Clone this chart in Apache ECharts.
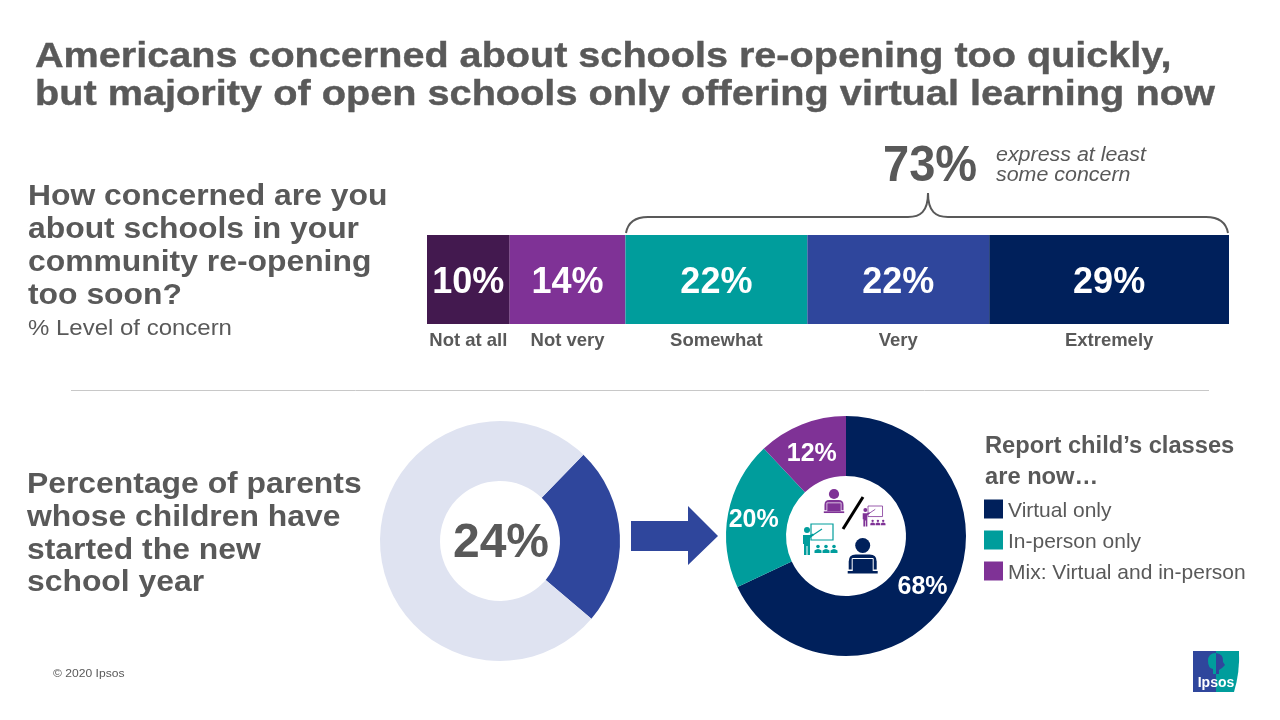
<!DOCTYPE html>
<html>
<head>
<meta charset="utf-8">
<title>Schools re-opening</title>
<script src="https://cdn.jsdelivr.net/npm/echarts@6/dist/echarts.min.js"></script>
<style>
html,body{margin:0;padding:0;background:#fff}
#main{width:1280px;height:720px}
</style>
</head>
<body>
<div id="main"></div>
<script>
var concernLabels = ['Not at all', 'Not very', 'Somewhat', 'Very', 'Extremely'];
var concernValues = [10, 14, 22, 22, 29];
var concernColors = ['#43194f', '#7f3296', '#009d9c', '#2f469c', '#00205b'];
var concernTotal = 73;

var startedNames = ['Started', 'Not started'];
var startedValues = [24, 76];
var startedColors = ['#2f469c', '#dfe3f1'];

var classNames = ['Virtual only', 'In-person only', 'Mix: Virtual and in-person'];
var classValues = [68, 20, 12];
var classColors = ['#00205b', '#009d9c', '#7f3296'];

var grey = '#595959';
var font = '"Liberation Sans", Arial, sans-serif';

var myChart = echarts.init(document.getElementById('main'));

// the source text is slightly stretched, sx widens it from its anchor
function text(x, y, str, size, bold, sx, extra){
    var style = {
        text: str, x: 0, y: 0, fill: grey, font: (bold ? 'bold ' : '') + size + 'px ' + font,
        verticalAlign: 'middle'
    };
    for (var k in extra) style[k] = extra[k];
    return {type: 'text', x: x, y: y, scaleX: sx || 1, style: style};
}

// graphic has no plain svg path type, so register each outline as its own shape
var shapeCount = 0;
function svgPath(pathData, style){
    var name = 'svgShape' + (shapeCount++);
    echarts.graphic.registerShape(name, echarts.graphic.extendPath(pathData, {}));
    return {type: name, style: style};
}

// person behind a laptop, origin is the centre of the head
function laptopPerson(x, y, s, color){
    return {
        type: 'group', x: x, y: y, scaleX: s, scaleY: s,
        children: [
            {type: 'circle', shape: {cx: 0, cy: 0, r: 7.5}, style: {fill: color}},
            svgPath('M-14 24 L-14 16 Q-14 9 -7 9 L7 9 Q14 9 14 16 L14 24 Z', {fill: color}),
            {type: 'rect', shape: {x: -10.5, y: 13, width: 21, height: 13}, style: {fill: color, stroke: '#fff', lineWidth: 1}},
            {type: 'rect', shape: {x: -15, y: 25.5, width: 30, height: 2.5}, style: {fill: color}}
        ]
    };
}

// teacher pointing at a board with three pupils, origin is the board's top left
function teacher(x, y, s, color){
    var kids = [];
    [7, 15, 23].forEach(function(kx){
        kids.push({type: 'circle', shape: {cx: kx, cy: 22.5, r: 1.8}, style: {fill: color}});
        kids.push(svgPath('M' + (kx - 3.5) + ' 29 L' + (kx - 3.5) + ' 26.5 Q' + kx + ' 23.5 ' + (kx + 3.5) + ' 26.5 L' + (kx + 3.5) + ' 29 Z', {fill: color}));
    });
    return {
        type: 'group', x: x, y: y, scaleX: s, scaleY: s,
        children: [
            {type: 'rect', shape: {x: 0, y: 0, width: 22, height: 16}, style: {fill: 'none', stroke: color, lineWidth: 1.2}},
            {type: 'line', shape: {x1: -1, y1: 13, x2: 11, y2: 5}, style: {stroke: color, lineWidth: 1.2}},
            {type: 'circle', shape: {cx: -4, cy: 6, r: 3}, style: {fill: color}},
            svgPath('M-8 11 L-1 11 L2 9.5 L3 11 L-1 14 L-1 31 L-3.5 31 L-3.5 22 L-4.5 22 L-4.5 31 L-7 31 L-7 20 L-8 20 Z', {fill: color})
        ].concat(kids)
    };
}

var heavy = {stroke: grey, lineWidth: 0.4};

var graphics = [
    text(35, 57, 'Americans concerned about schools re-opening too quickly,', 35, true, 1.131, heavy),
    text(35, 95, 'but majority of open schools only offering virtual learning now', 35, true, 1.134, heavy),

    text(28, 197, 'How concerned are you', 30, true, 1.062),
    text(28, 230, 'about schools in your', 30, true, 1.062),
    text(28, 263, 'community re-opening', 30, true, 1.062),
    text(28, 296, 'too soon?', 30, true, 1.062),
    text(28, 329, '% Level of concern', 22, false, 1.09),

    text(883, 167, concernTotal + '%', 50, true, 0.94),
    text(996, 155, 'express at least', 20, false, 1.07, {font: 'italic 20px ' + font}),
    text(996, 175, 'some concern', 20, false, 1.07, {font: 'italic 20px ' + font}),
    svgPath('M626 233 C628 222 636 217 648 217 L908 217 C920 217 928 212 928 193 C928 212 936 217 948 217 L1206 217 C1218 217 1226 222 1228 233',
        {fill: 'none', stroke: grey, lineWidth: 2}),

    {type: 'line', shape: {x1: 71, y1: 390.5, x2: 1209, y2: 390.5}, style: {stroke: '#c8c8c8', lineWidth: 1}},

    text(27, 485, 'Percentage of parents', 30, true, 1.062),
    text(27, 518, 'whose children have', 30, true, 1.062),
    text(27, 551, 'started the new', 30, true, 1.062),
    text(27, 583, 'school year', 30, true, 1.062),

    text(501, 544, startedValues[0] + '%', 48, true, 1, {align: 'center'}),
    {type: 'polygon', shape: {points: [[631, 521], [688, 521], [688, 506], [718, 536], [688, 565], [688, 551], [631, 551]]},
        style: {fill: '#2f469c'}},

    laptopPerson(862.7, 545.5, 1, '#00205b'),
    laptopPerson(834, 494, 0.68, '#7f3296'),
    teacher(811, 524, 1, '#009d9c'),
    teacher(868, 506, 0.66, '#7f3296'),
    {type: 'line', shape: {x1: 843, y1: 529, x2: 863, y2: 497}, style: {stroke: '#000', lineWidth: 3}},

    text(985, 447, 'Report child\u2019s classes', 23, true, 1.03),
    text(985, 478, 'are now\u2026', 23, true, 1.03),

    text(53, 674, '\u00a9 2020 Ipsos', 11, false, 1.1),

    // logo
    {type: 'polygon', shape: {points: [[1193, 651], [1216, 651], [1216, 692], [1193, 692]]}, style: {fill: '#2f469c'}},
    svgPath('M1216 651 L1239 651 Q1240 672 1234 692 L1216 692 Z', {fill: '#009d9c'}),
    svgPath('M1216 653 Q1208 653 1208 661 Q1208 668 1213 669 L1213 674 L1216 674 Z', {fill: '#009d9c'}),
    svgPath('M1216 653 Q1224 654 1223 662 L1225 665 L1222 668 L1219 670 L1219 674 L1216 674 Z', {fill: '#2f469c'}),
    text(1216, 683, 'Ipsos', 14, true, 1, {fill: '#fff', align: 'center'})
];

var barSeries = [];
concernLabels.forEach(function(name, i){
    barSeries.push({
        name: name, type: 'bar', stack: 'concern', xAxisIndex: 0, yAxisIndex: 0,
        barWidth: '100%', data: [concernValues[i]],
        itemStyle: {color: concernColors[i]},
        label: {show: true, position: 'inside', offset: [0, 4], formatter: '{c}%', color: '#fff',
            fontFamily: font, fontWeight: 'bold', fontSize: 36}
    });
    // same widths on a lower row, only to carry the category names
    barSeries.push({
        name: name + ' label', type: 'bar', stack: 'names', xAxisIndex: 1, yAxisIndex: 1,
        barWidth: '100%', data: [concernValues[i]],
        itemStyle: {color: 'transparent'},
        label: {show: true, position: 'inside', offset: [0, 1], formatter: name, color: grey,
            fontFamily: font, fontWeight: 'bold', fontSize: 18.5}
    });
});

// nudges for the ring labels, same order as classNames
var classLabelOffsets = [[-2, 1], [-1, 2], [0, 5]];

var option = {
    animation: false,
    backgroundColor: '#fff',
    grid: [
        {left: 427, top: 235, width: 802, height: 89},
        {left: 427, top: 328, width: 802, height: 24}
    ],
    xAxis: [
        {type: 'value', gridIndex: 0, min: 0, max: 97, show: false},
        {type: 'value', gridIndex: 1, min: 0, max: 97, show: false}
    ],
    yAxis: [
        {type: 'category', gridIndex: 0, data: ['concern'], show: false},
        {type: 'category', gridIndex: 1, data: ['names'], show: false}
    ],
    legend: {
        data: classNames, orient: 'vertical', left: 984, top: 496, padding: 0,
        icon: 'rect', itemWidth: 19, itemHeight: 19, itemGap: 5,
        formatter: '{t|{name}}',
        textStyle: {color: grey, fontFamily: font, fontSize: 21,
            rich: {t: {color: grey, fontFamily: font, fontSize: 21, lineHeight: 19, padding: [5, 0, 0, 0]}}}
    },
    series: barSeries.concat([
        {
            name: 'Started school', type: 'pie', center: [500, 541], radius: [60, 120],
            startAngle: 46, silent: true, label: {show: false}, labelLine: {show: false},
            data: startedNames.map(function(n, i){
                return {name: n, value: startedValues[i], itemStyle: {color: startedColors[i]}};
            })
        },
        {
            name: 'Classes', type: 'pie', center: [846, 536], radius: [60, 120],
            startAngle: 90, silent: true, labelLine: {show: false},
            data: classNames.map(function(n, i){
                return {
                    name: n, value: classValues[i], itemStyle: {color: classColors[i]},
                    label: {show: true, position: 'inside', offset: classLabelOffsets[i], formatter: '{c}%',
                        color: '#fff', fontFamily: font, fontWeight: 'bold', fontSize: 25}
                };
            })
        }
    ]),
    graphic: graphics
};
myChart.setOption(option);
</script>
</body>
</html>
